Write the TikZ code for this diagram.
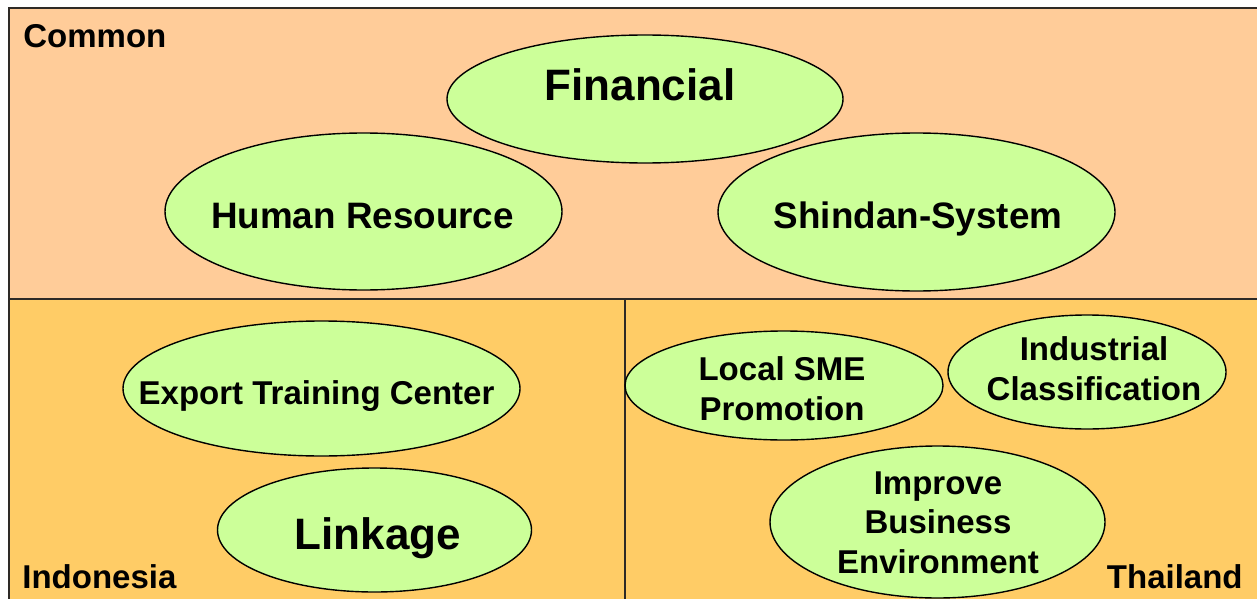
\documentclass[tikz,border=0pt]{standalone}
\usepackage{fontspec}
\setmainfont{Liberation Sans}
\usetikzlibrary{shapes.geometric}
\definecolor{topbg}{HTML}{FFCC99}
\definecolor{botbg}{HTML}{FFCC66}
\definecolor{ellfill}{HTML}{CCFF99}
\definecolor{frameline}{HTML}{2E2A26}
\tikzset{
  goal/.style={ellipse, draw=black, line width=0.7pt, fill=ellfill, inner sep=0pt},
  lbl/.style={inner sep=0pt, align=center, anchor=base, font=\bfseries\fontsize{16.5}{19.7}\selectfont},
  biglbl/.style={lbl, font=\bfseries\fontsize{22}{26}\selectfont},
  midlbl/.style={lbl, font=\bfseries\fontsize{18.4}{22}\selectfont},
  region/.style={font=\bfseries\fontsize{16.5}{19.7}\selectfont, inner sep=0pt},
  divider/.style={draw=frameline, line width=1pt}
}
\begin{document}
\begin{tikzpicture}[x=0.5pt,y=-0.5pt]
\useasboundingbox (0,0) rectangle (1257,599);
\fill[white] (0,0) rectangle (1257,599);
\fill[topbg] (9,8) rectangle (1270,299);
\fill[botbg] (9,299) rectangle (1270,610);
\draw[divider] (1270,8) -- (9,8) -- (9,610);
\draw[divider] (9,299) -- (1270,299);
\draw[divider] (625,299) -- (625,610);
% region labels
\node[region, anchor=base west] (common) at (23,48) {Common};
\node[region, anchor=base west] (indonesia) at (22,588) {Indonesia};
\node[region, anchor=base east] (thailand) at (1243,588) {Thailand};
% common
\node[goal, minimum width=396*0.5pt, minimum height=128*0.5pt] (fin) at (645,99) {};
\node[biglbl] (fint) at (640,101) {Financial};
\node[goal, minimum width=397*0.5pt, minimum height=157*0.5pt] (hr) at (363.5,211.5) {};
\node[midlbl] (hrt) at (362.5,228) {Human Resource};
\node[goal, minimum width=397*0.5pt, minimum height=158*0.5pt] (shin) at (916.5,212) {};
\node[midlbl] (shint) at (918,228) {Shindan-System};
% indonesia
\node[goal, minimum width=397*0.5pt, minimum height=135*0.5pt] (etc) at (321.5,388.5) {};
\node[lbl] (etct) at (316.5,404) {Export Training Center};
\node[goal, minimum width=314*0.5pt, minimum height=124*0.5pt] (link) at (374.5,530) {};
\node[biglbl] (linkt) at (378,549) {Linkage};
% thailand
\node[goal, minimum width=318*0.5pt, minimum height=109*0.5pt] (sme) at (784,385.5) {};
\node[lbl] (smet) at (782,420) {Local SME\\Promotion};
\node[goal, minimum width=278*0.5pt, minimum height=114*0.5pt] (ind) at (1087,372) {};
\node[lbl] (indt) at (1094,400) {Industrial\\Classification};
\node[goal, minimum width=335*0.5pt, minimum height=152*0.5pt] (ibe) at (937.5,522) {};
\node[lbl] (ibet) at (938,573) {Improve\\Business\\Environment};
\end{tikzpicture}
\end{document}
